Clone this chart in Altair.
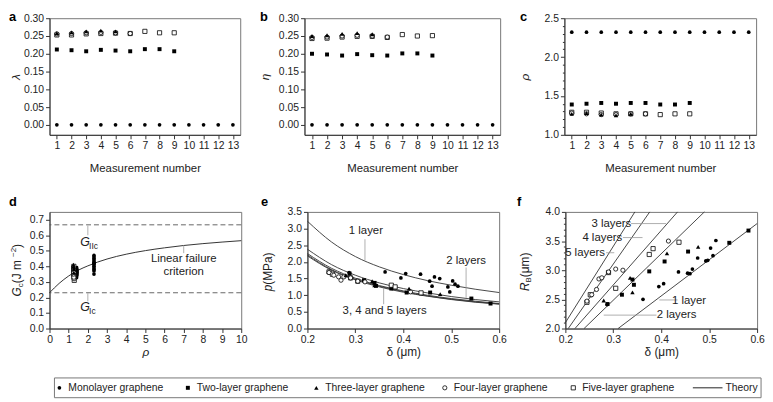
import altair as alt
import pandas as pd

FONT = "Liberation Sans"
TXT = "#222222"
NB = "\u00a0"

# ---------------- data: panels a-c (per measurement number) ----------------
meas_mono = list(range(1, 14))
meas_two = list(range(1, 10))
meas_three = list(range(1, 6))
meas_four = list(range(1, 7))
meas_five = list(range(1, 10))

lam_mono = [0.0] * 13
lam_two = [0.212, 0.210, 0.207, 0.211, 0.209, 0.207, 0.213, 0.213, 0.207]
lam_three = [0.258, 0.260, 0.263, 0.265, 0.263]
lam_four = [0.256, 0.257, 0.259, 0.260, 0.259, 0.257]
lam_five = [0.253, 0.253, 0.256, 0.257, 0.258, 0.257, 0.263, 0.259, 0.259]

eta_mono = [0.0] * 13
eta_two = [0.200, 0.198, 0.195, 0.199, 0.196, 0.195, 0.201, 0.201, 0.195]
eta_three = [0.250, 0.252, 0.256, 0.258, 0.255]
eta_four = [0.246, 0.247, 0.250, 0.252, 0.250, 0.247]
eta_five = [0.243, 0.244, 0.247, 0.249, 0.249, 0.246, 0.254, 0.250, 0.251]

rho_mono = [2.32] * 13
rho_two = [1.39, 1.40, 1.41, 1.40, 1.41, 1.41, 1.39, 1.39, 1.41]
rho_three = [1.27, 1.28, 1.26, 1.25, 1.27]
rho_four = [1.28, 1.27, 1.26, 1.26, 1.27, 1.27]
rho_five = [1.29, 1.29, 1.28, 1.27, 1.27, 1.27, 1.26, 1.27, 1.27]

# ---------------- panel d ----------------
gc_mono = [0.35, 0.37, 0.38, 0.39, 0.40, 0.41, 0.42, 0.42, 0.43, 0.44, 0.45, 0.46, 0.47]
gc_two = [0.33, 0.34, 0.35, 0.36, 0.37, 0.38, 0.39, 0.37, 0.36]
gc_three = [0.36, 0.38, 0.40, 0.41, 0.39]
gc_four = [0.32, 0.33, 0.35, 0.37, 0.38, 0.36]
gc_five = [0.31, 0.33, 0.35, 0.36, 0.37, 0.38, 0.39, 0.40, 0.34]
theory_rho = [0, 0.5, 1, 1.5, 2, 2.5, 3, 4, 5, 6, 7, 8, 9, 10]
theory_gc = [0.23, 0.29, 0.338, 0.375, 0.403, 0.427, 0.447, 0.478, 0.501, 0.519, 0.534, 0.546, 0.556, 0.565]
g_limits = [0.23, 0.667]

# ---------------- panels e, f ----------------
d_mono = [0.287, 0.362, 0.395, 0.405, 0.436, 0.455, 0.460, 0.465, 0.476, 0.493, 0.497, 0.503, 0.508, 0.514]
p_mono = [1.68, 1.70, 1.52, 1.65, 1.63, 1.42, 1.27, 1.55, 1.50, 1.25, 1.10, 1.43, 1.33, 1.27]
r_mono = [2.41, 2.50, 2.72, 2.77, 2.97, 2.95, 2.94, 3.02, 3.21, 3.16, 3.17, 3.38, 3.25, 3.51]
d_two = [0.288, 0.318, 0.340, 0.343, 0.375, 0.407, 0.456, 0.542, 0.582]
p_two = [1.65, 1.45, 1.37, 1.28, 1.20, 1.08, 1.08, 0.90, 0.75]
r_two = [2.42, 2.58, 2.84, 2.75, 2.98, 3.15, 3.32, 3.47, 3.68]
d_three = [0.280, 0.335, 0.340, 0.412, 0.477]
p_three = [1.60, 1.42, 1.30, 1.20, 1.03]
r_three = [2.48, 2.87, 2.62, 3.29, 3.40]
d_four = [0.245, 0.255, 0.265, 0.270, 0.276, 0.290, 0.305, 0.320, 0.415]
p_four = [1.68, 1.60, 1.55, 1.45, 1.55, 1.52, 1.42, 1.40, 1.10]
r_four = [2.47, 2.58, 2.67, 2.85, 2.87, 2.97, 3.02, 3.00, 3.50]
d_five = [0.245, 0.252, 0.290, 0.305, 0.375, 0.383, 0.437]
p_five = [1.70, 1.63, 1.52, 1.42, 1.30, 1.25, 1.07]
r_five = [2.45, 2.58, 2.96, 2.69, 3.27, 3.37, 3.48]

e_delta = [0.2, 0.25, 0.3, 0.35, 0.4, 0.45, 0.5, 0.55, 0.6]
e_p1 = [3.22, 2.60, 2.16, 1.85, 1.62, 1.44, 1.30, 1.18, 1.08]
e_p2 = [2.38, 1.92, 1.60, 1.37, 1.20, 1.07, 0.96, 0.87, 0.80]
e_p3 = [2.25, 1.81, 1.51, 1.29, 1.13, 1.00, 0.90, 0.82, 0.75]
e_p4 = [2.21, 1.77, 1.48, 1.27, 1.11, 0.98, 0.88, 0.80, 0.74]
e_p5 = [2.18, 1.75, 1.46, 1.25, 1.09, 0.97, 0.87, 0.79, 0.73]

f_line_names = ["5", "4", "3", "2", "1"]
f_line_d = [[0.200, 0.345], [0.206, 0.376], [0.220, 0.434], [0.239, 0.490], [0.310, 0.600]]
f_line_r = [[2.10, 4.00], [2.00, 4.00], [2.00, 4.00], [2.00, 4.00], [2.00, 3.80]]

legend_labels = ["Monolayer graphene", "Two-layer graphene", "Three-layer graphene",
                 "Four-layer graphene", "Five-layer graphene", "Theory"]

# ---------------- helpers ----------------
STY = {
    "mono": dict(shape="circle", size=14, open=False),
    "two": dict(shape="square", size=16, open=False),
    "three": dict(shape="triangle-up", size=20, open=False),
    "four": dict(shape="circle", size=18, open=True),
    "five": dict(shape="square", size=18, open=True),
}


def mk_point(kind):
    s = STY[kind]
    if s["open"]:
        return dict(shape=s["shape"], size=s["size"], filled=True, fill="white",
                    stroke="black", strokeWidth=0.8, opacity=1)
    return dict(shape=s["shape"], size=s["size"], filled=True, color="black", opacity=1)


class P:
    def __init__(self, xs, ys, xa, ya):
        self.xs, self.ys, self.xa, self.ya = xs, ys, xa, ya

    def X(self, f="x"):
        return alt.X(f"{f}:Q", scale=self.xs, axis=self.xa)

    def Y(self, f="y"):
        return alt.Y(f"{f}:Q", scale=self.ys, axis=self.ya)


def series(kind, xv, yv, p):
    df = pd.DataFrame({"x": xv, "y": yv})
    return alt.Chart(df).mark_point(**mk_point(kind)).encode(x=p.X(), y=p.Y())


def pix_text(t, px, py, size=12, **kw):
    df = pd.DataFrame({"t": [t]})
    base = dict(text=t, font=FONT, fontSize=size, color=TXT)
    base.update(kw)
    return alt.Chart(df).mark_text(**base).encode(x=alt.value(px), y=alt.value(py))


def letter(t, px, py):
    return pix_text(t, px, py, size=13, fontWeight="bold", align="left",
                    baseline="top", color="black")


def data_text(texts, xv, yv, p, size=11.5, **kw):
    df = pd.DataFrame({"x": xv, "y": yv, "t": texts})
    base = dict(font=FONT, fontSize=size, color=TXT)
    base.update(kw)
    return alt.Chart(df).mark_text(**base).encode(x=p.X(), y=p.Y(), text="t:N")


def leaders(x1, y1, x2, y2, p):
    df = pd.DataFrame({"x": x1, "y": y1, "x2": x2, "y2": y2})
    return alt.Chart(df).mark_rule(color="#9a9a9a", strokeWidth=0.8).encode(
        x=p.X(), y=p.Y(), x2="x2:Q", y2="y2:Q")


def spacer(py):
    return alt.Chart(pd.DataFrame({"k": [0]})).mark_rule(strokeOpacity=0).encode(
        x=alt.value(0), x2=alt.value(1), y=alt.value(py))


H = 118
ROW1_LETTER_Y = -7
ROW2_LETTER_Y = -16
meas_vals = list(range(1, 14))
xs_meas = alt.Scale(domain=[0.5, 13.5], nice=False, zero=False)
meas_axis = alt.Axis(values=meas_vals, format="d", title="Measurement number",
                     titleY=28, titleFontSize=11.5, labelPadding=2)


def minor_axis(vals, step_major, fmt, title, tx, style="italic"):
    test = f"abs(datum.value/{step_major}-round(datum.value/{step_major}))<0.001"
    return alt.Axis(values=vals, title=title, titleX=tx, titleY=H / 2, titleFontStyle=style,
                    labelExpr=f"{test} ? format(datum.value,'{fmt}') : ''",
                    tickSize={"condition": {"test": test, "value": 4}, "value": 2})


def abc_panel(lbl, lx, w, p, vals, extra=()):
    mono, two, three, four, five = vals
    return alt.layer(
        series("two", meas_two, two, p),
        series("five", meas_five, five, p),
        series("four", meas_four, four, p),
        series("three", meas_three, three, p),
        series("mono", meas_mono, mono, p),
        letter(lbl, lx, ROW1_LETTER_Y),
        *extra,
    ).properties(width=w, height=H)


ys_ab = alt.Scale(domain=[-0.028, 0.30], nice=False, zero=False)
ab_vals = [round(0.05 * i, 2) for i in range(7)]
Pa = P(xs_meas, ys_ab, meas_axis,
       alt.Axis(values=ab_vals, format=".2f", title="λ", titleX=-27, titleY=H / 2,
                titleFontStyle="italic"))
Pb = P(xs_meas, ys_ab, meas_axis,
       alt.Axis(values=ab_vals, format=".2f", title="η", titleX=-33, titleY=H / 2,
                titleFontStyle="italic"))
ys_c = alt.Scale(domain=[1.0, 2.5], nice=False, zero=False)
Pc = P(xs_meas, ys_c, meas_axis,
       minor_axis([round(1 + 0.1 * i, 1) for i in range(16)], 0.5, ".1f", "ρ", -33))
pa = abc_panel("a", -41, 193, Pa, [lam_mono, lam_two, lam_three, lam_four, lam_five],
               extra=(spacer(H + 41),))
pb = abc_panel("b", -45, 198, Pb, [eta_mono, eta_two, eta_three, eta_four, eta_five])
pc = abc_panel("c", -45, 194, Pc, [rho_mono, rho_two, rho_three, rho_four, rho_five])

# ---------------- panel d ----------------
Pd = P(alt.Scale(domain=[0, 10], nice=False, zero=False),
       alt.Scale(domain=[0, 0.75], nice=False, zero=False),
       alt.Axis(values=list(range(11)), format="d", title="ρ", titleFontStyle="italic",
                titleY=18, labelPadding=2),
       alt.Axis(values=[round(0.1 * i, 1) for i in range(8)], format=".1f", title=None))
d_theory = alt.Chart(pd.DataFrame({"x": theory_rho, "y": theory_gc})).mark_line(
    color="#333333", strokeWidth=1, interpolate="monotone").encode(x=Pd.X(), y=Pd.Y())
d_dash = alt.Chart(pd.DataFrame({"y": g_limits})).mark_rule(
    color="#555555", strokeWidth=0.9, strokeDash=[5, 3]).encode(y=Pd.Y())
GX = -29
pd_ = alt.layer(
    d_dash, d_theory,
    leaders([2.0, 2.0, 7.0], [0.662, 0.227, 0.534], [2.0, 2.0, 7.0], [0.60, 0.175, 0.485], Pd),
    series("two", rho_two, gc_two, Pd),
    series("five", rho_five, gc_five, Pd),
    series("four", rho_four, gc_four, Pd),
    series("three", rho_three, gc_three, Pd),
    series("mono", rho_mono, gc_mono, Pd),
    data_text(["G", "G"], [1.6, 1.6], [0.533, 0.114], Pd, size=12.5,
              fontStyle="italic", align="left", baseline="alphabetic"),
    data_text(["IIc", "Ic"], [1.6, 1.6], [0.533, 0.114], Pd, size=8.5,
              align="left", baseline="alphabetic", dx=9, dy=3),
    data_text(["Linear failure", "criterion"], [7.0, 7.0], [0.448, 0.362], Pd,
              size=11.5, align="center", baseline="middle"),
    letter("d", -41, ROW2_LETTER_Y),
    pix_text("G", GX, 85.5, size=12, angle=270, align="left", baseline="alphabetic",
             fontStyle="italic"),
    pix_text("c", GX + 2.5, 76.2, size=8, angle=270, align="left", baseline="alphabetic"),
    pix_text(NB + "(J" + NB + "m", GX, 72.2, size=12, angle=270, align="left",
             baseline="alphabetic"),
    pix_text("−2", GX - 4.5, 45.5, size=8, angle=270, align="left", baseline="alphabetic"),
    pix_text(")", GX, 36.4, size=12, angle=270, align="left", baseline="alphabetic"),
).properties(width=194, height=H)

# ---------------- panel e ----------------
xs_ef = alt.Scale(domain=[0.2, 0.6], nice=False, zero=False)
ef_axis_x = alt.Axis(values=[0.2, 0.3, 0.4, 0.5, 0.6], format=".1f", title="δ (μm)",
                     titleY=18, labelPadding=2)
Pe = P(xs_ef, alt.Scale(domain=[0, 3.5], nice=False, zero=False), ef_axis_x,
       alt.Axis(values=[round(0.5 * i, 1) for i in range(8)], format=".1f", title=None))
e_rows = []
for name, vals in zip(["1", "2", "3", "4", "5"], [e_p1, e_p2, e_p3, e_p4, e_p5]):
    for dv, pv in zip(e_delta, vals):
        e_rows.append({"curve": name, "x": dv, "y": pv})
e_curves = alt.Chart(pd.DataFrame(e_rows)).mark_line(
    color="#333333", strokeWidth=0.9, interpolate="monotone").encode(
    x=Pe.X(), y=Pe.Y(), detail="curve:N")
pe = alt.layer(
    e_curves,
    leaders([0.32, 0.531, 0.359], [2.68, 1.83, 1.22], [0.32, 0.531, 0.359], [2.05, 0.92, 0.73], Pe),
    series("two", d_two, p_two, Pe),
    series("five", d_five, p_five, Pe),
    series("four", d_four, p_four, Pe),
    series("three", d_three, p_three, Pe),
    series("mono", d_mono, p_mono, Pe),
    data_text(["1 layer", "2 layers", "3, 4 and 5 layers"], [0.322, 0.531, 0.361],
              [2.93, 2.03, 0.53], Pe, size=11.5, align="center", baseline="middle"),
    letter("e", -47, ROW2_LETTER_Y),
    pix_text("p", -36, 80.4, size=12, angle=270, align="left", baseline="alphabetic",
             fontStyle="italic"),
    pix_text(NB + "(MPa)", -36, 73.7, size=12, angle=270, align="left", baseline="alphabetic"),
).properties(width=194, height=H)

# ---------------- panel f ----------------
Pf = P(xs_ef, alt.Scale(domain=[2.0, 4.0], nice=False, zero=False), ef_axis_x,
       minor_axis([round(2 + 0.1 * i, 1) for i in range(21)], 0.5, ".1f", None, -33))
f_rows = []
for name, dl, rl in zip(f_line_names, f_line_d, f_line_r):
    for dv, rv in zip(dl, rl):
        f_rows.append({"line": name, "x": dv, "y": rv})
f_lines = alt.Chart(pd.DataFrame(f_rows)).mark_line(color="#333333", strokeWidth=0.9).encode(
    x=Pf.X(), y=Pf.Y(), detail="line:N")
pf = alt.layer(
    f_lines,
    leaders([0.337, 0.320, 0.285, 0.396, 0.280], [3.80, 3.56, 3.30, 2.49, 2.23],
            [0.410, 0.361, 0.302, 0.434, 0.390], [3.80, 3.56, 3.30, 2.49, 2.23], Pf),
    series("two", d_two, r_two, Pf),
    series("five", d_five, r_five, Pf),
    series("four", d_four, r_four, Pf),
    series("three", d_three, r_three, Pf),
    series("mono", d_mono, r_mono, Pf),
    data_text(["3 layers", "4 layers", "5 layers", "1 layer", "2 layers"],
              [0.296, 0.277, 0.241, 0.458, 0.432], [3.80, 3.56, 3.30, 2.47, 2.23],
              Pf, size=11.5, align="center", baseline="middle"),
    letter("f", -49, ROW2_LETTER_Y),
    pix_text("R", -37, 80.1, size=12, angle=270, align="left", baseline="alphabetic",
             fontStyle="italic"),
    pix_text("B", -34.5, 71.4, size=8, angle=270, align="left", baseline="alphabetic"),
    pix_text(NB + "(μm)", -37, 66.1, size=12, angle=270, align="left", baseline="alphabetic"),
).properties(width=194, height=H)

# ---------------- legend ----------------
LW = 720
xs_leg = alt.Scale(domain=[-10 / 130, (LW - 10) / 130], nice=False, zero=False)
leg_kinds = ["mono", "two", "three", "four", "five"]
leg_layers = [alt.Chart(pd.DataFrame({"k": [0]})).mark_rect(
    fill="white", fillOpacity=0, stroke="#777777", strokeWidth=1).encode(
    x=alt.value(5), x2=alt.value(LW), y=alt.value(0), y2=alt.value(20))]
for i, k in enumerate(leg_kinds):
    df = pd.DataFrame({"i": [i]})
    leg_layers.append(alt.Chart(df).mark_point(**mk_point(k)).encode(
        x=alt.X("i:Q", scale=xs_leg, axis=None), y=alt.value(10)))
leg_layers.append(alt.Chart(pd.DataFrame({"i": [5]})).mark_point(
    shape="M-0.6,0L1.4,0", size=900, filled=False, stroke="#222222", strokeWidth=1,
    opacity=1).encode(x=alt.X("i:Q", scale=xs_leg, axis=None), y=alt.value(10)))
leg_df = pd.DataFrame({"i": list(range(6)), "t": legend_labels})
leg_text = alt.Chart(leg_df[leg_df["i"] < 5]).mark_text(
    align="left", baseline="middle", font=FONT, fontSize=10.5, color=TXT, dx=9).encode(
    x=alt.X("i:Q", scale=xs_leg, axis=None), y=alt.value(10), text="t:N")
leg_text2 = alt.Chart(leg_df[leg_df["i"] == 5]).mark_text(
    align="left", baseline="middle", font=FONT, fontSize=10.5, color=TXT, dx=24).encode(
    x=alt.X("i:Q", scale=xs_leg, axis=None), y=alt.value(10), text="t:N")
legend = alt.layer(*leg_layers, leg_text, leg_text2).properties(
    width=LW, height=20, view=alt.ViewBackground(stroke="transparent"))

row1 = alt.hconcat(pa, pb, pc, spacing=65, bounds="flush")
row2 = alt.hconcat(pd_, pe, pf, spacing=67, bounds="flush")

chart = alt.vconcat(row1, row2, legend, spacing=19).properties(padding=0).configure_axis(
    labelFont=FONT, titleFont=FONT, labelFontSize=10.5, titleFontSize=12,
    labelColor=TXT, titleColor=TXT, domainColor="#333333", tickColor="#333333",
    tickSize=4, grid=False, labelFlush=False, labelOverlap=False,
    titleFontWeight="normal", labelPadding=2,
).configure_view(stroke="#777777", strokeWidth=1)

chart.save("out.html", embed_options={"renderer": "svg", "actions": False})
